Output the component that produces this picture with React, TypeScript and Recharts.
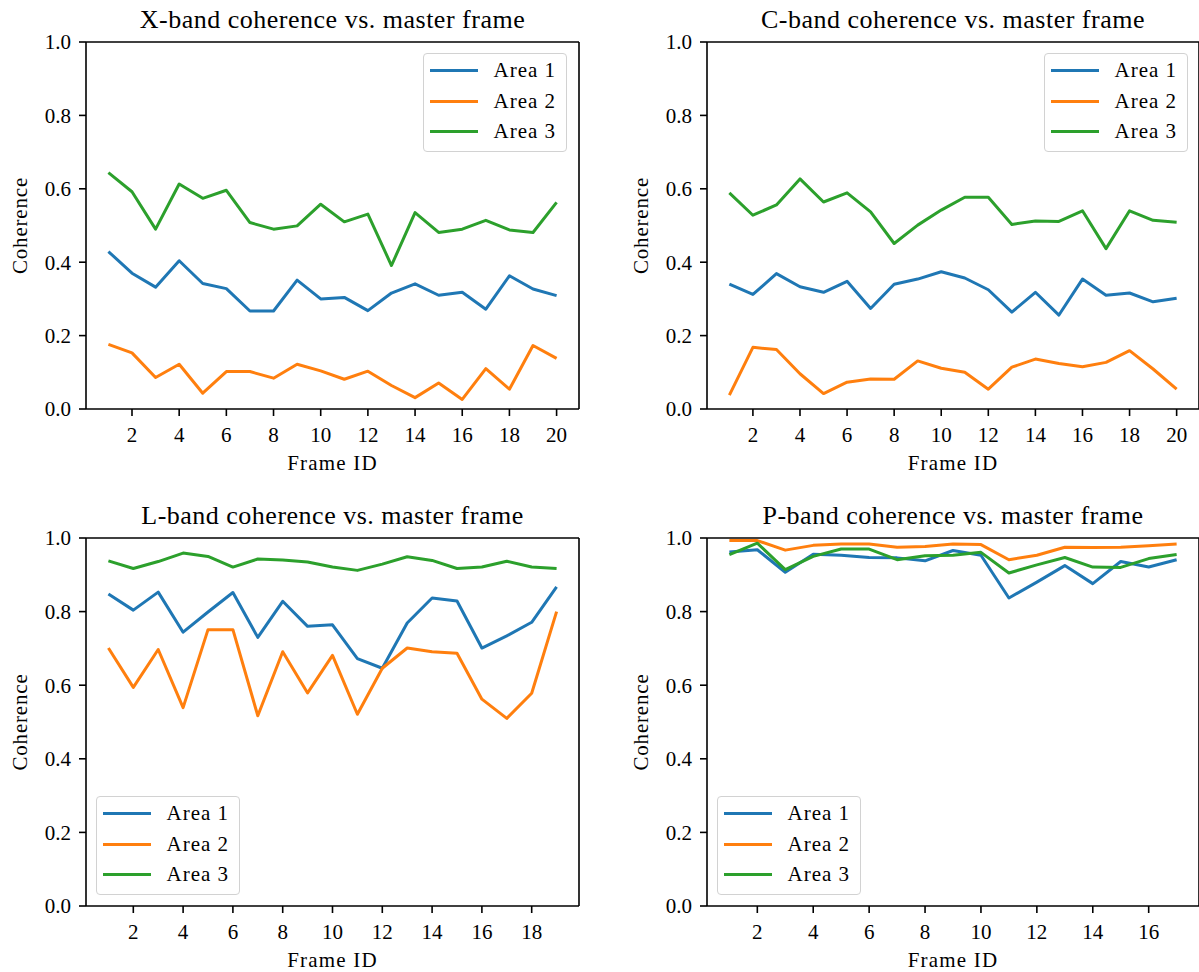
import React from 'react';
import { LineChart, Line, XAxis, YAxis, Legend, ReferenceLine } from 'recharts';

const FONT = "'Liberation Serif', 'Times New Roman', serif";
const COLORS = ['#1f77b4', '#ff7f0e', '#2ca02c'];
const SERIES_NAMES = ['Area 1', 'Area 2', 'Area 3'];
const Y_TICKS = [0, 0.2, 0.4, 0.6, 0.8, 1.0];

// X-band
const framesX = [1, 2, 3, 4, 5, 6, 7, 8, 9, 10, 11, 12, 13, 14, 15, 16, 17, 18, 19, 20];
const xArea1 = [0.429, 0.370, 0.332, 0.404, 0.342, 0.328, 0.267, 0.267, 0.351, 0.300, 0.304, 0.268, 0.316, 0.341, 0.310, 0.318, 0.272, 0.363, 0.327, 0.309];
const xArea2 = [0.176, 0.153, 0.086, 0.122, 0.043, 0.102, 0.102, 0.084, 0.122, 0.104, 0.081, 0.103, 0.064, 0.031, 0.071, 0.026, 0.110, 0.054, 0.173, 0.138];
const xArea3 = [0.644, 0.592, 0.490, 0.613, 0.574, 0.596, 0.508, 0.490, 0.499, 0.558, 0.510, 0.531, 0.391, 0.535, 0.481, 0.490, 0.514, 0.488, 0.481, 0.563];

// C-band
const framesC = [1, 2, 3, 4, 5, 6, 7, 8, 9, 10, 11, 12, 13, 14, 15, 16, 17, 18, 19, 20];
const cArea1 = [0.340, 0.312, 0.369, 0.333, 0.318, 0.348, 0.274, 0.340, 0.354, 0.374, 0.357, 0.325, 0.264, 0.318, 0.256, 0.354, 0.310, 0.316, 0.292, 0.302];
const cArea2 = [0.038, 0.168, 0.162, 0.096, 0.042, 0.073, 0.082, 0.081, 0.131, 0.111, 0.100, 0.054, 0.114, 0.136, 0.124, 0.115, 0.127, 0.159, 0.109, 0.054];
const cArea3 = [0.589, 0.528, 0.556, 0.627, 0.564, 0.589, 0.537, 0.451, 0.501, 0.542, 0.577, 0.577, 0.503, 0.512, 0.511, 0.540, 0.437, 0.540, 0.514, 0.509];

// L-band
const framesL = [1, 2, 3, 4, 5, 6, 7, 8, 9, 10, 11, 12, 13, 14, 15, 16, 17, 18, 19];
const lArea1 = [0.848, 0.804, 0.853, 0.744, 0.799, 0.852, 0.730, 0.828, 0.760, 0.764, 0.672, 0.646, 0.769, 0.837, 0.829, 0.701, 0.734, 0.771, 0.867];
const lArea2 = [0.701, 0.594, 0.697, 0.539, 0.751, 0.751, 0.517, 0.691, 0.579, 0.681, 0.521, 0.646, 0.701, 0.691, 0.687, 0.562, 0.510, 0.578, 0.800];
const lArea3 = [0.938, 0.917, 0.936, 0.959, 0.950, 0.921, 0.943, 0.940, 0.935, 0.921, 0.912, 0.929, 0.949, 0.939, 0.917, 0.921, 0.937, 0.921, 0.917];

// P-band
const framesP = [1, 2, 3, 4, 5, 6, 7, 8, 9, 10, 11, 12, 13, 14, 15, 16, 17];
const pArea1 = [0.962, 0.968, 0.907, 0.956, 0.953, 0.947, 0.946, 0.938, 0.966, 0.953, 0.837, 0.880, 0.925, 0.876, 0.936, 0.921, 0.941];
const pArea2 = [0.993, 0.993, 0.967, 0.980, 0.984, 0.984, 0.975, 0.977, 0.984, 0.982, 0.941, 0.953, 0.975, 0.974, 0.975, 0.979, 0.984];
const pArea3 = [0.955, 0.986, 0.914, 0.950, 0.970, 0.970, 0.941, 0.952, 0.953, 0.961, 0.905, 0.927, 0.947, 0.921, 0.920, 0.944, 0.955];

const xTicks20 = [2, 4, 6, 8, 10, 12, 14, 16, 18, 20];
const xTicks19 = [2, 4, 6, 8, 10, 12, 14, 16, 18];
const xTicks17 = [2, 4, 6, 8, 10, 12, 14, 16];

const X_AXIS_H = 66;
const Y_AXIS_W = 80;

function LegendBox({ payload }: any) {
    const items = (payload || []).map((p: any) => ({ label: p.value, color: p.color }));
    return (
        <div
            style={{
                width: 144,
                height: 99,
                boxSizing: 'border-box',
                border: '1.5px solid #d2d2d2',
                borderRadius: 4,
                background: 'rgba(255,255,255,0.8)',
                fontFamily: FONT,
                fontSize: 21,
                letterSpacing: 1,
                paddingTop: 1,
            }}
        >
            {items.map((it: any) => (
                <div key={it.label} style={{ height: 30.7, display: 'flex', alignItems: 'center' }}>
                    <div style={{ marginLeft: 5.5, width: 48, height: 3, background: it.color }} />
                    <span style={{ marginLeft: 16, lineHeight: 1, fontFamily: FONT }}>{it.label}</span>
                </div>
            ))}
        </div>
    );
}

interface PanelProps {
    title: string;
    frames: number[];
    series: number[][];
    xTicks: number[];
    left: number;
    top: number;
    width: number;
    height: number;
    plot: { left: number; top: number; right: number; bottom: number };
    legendAt: { left: number; top: number };
}

function Panel({ title, frames, series, xTicks, left, top, width, height, plot, legendAt }: PanelProps) {
    const data = frames.map((f, i) => ({
        frame: f,
        a1: series[0][i],
        a2: series[1][i],
        a3: series[2][i],
    }));
    const pad = 0.05 * (frames[frames.length - 1] - frames[0]);
    const domain = [frames[0] - pad, frames[frames.length - 1] + pad];

    const axisStroke = { stroke: '#000', strokeWidth: 1.6 };
    const tickStyle = { fill: '#000', fontSize: 21, fontFamily: FONT };

    return (
        <div style={{ position: 'absolute', left, top, width, height }}>
            <div
                style={{
                    position: 'absolute',
                    left: plot.left,
                    width: plot.right - plot.left,
                    top: plot.top - 35,
                    textAlign: 'center',
                    fontFamily: FONT,
                    fontSize: 26,
                    lineHeight: '26px',
                    letterSpacing: 0.5,
                    whiteSpace: 'nowrap',
                }}
            >
                {title}
            </div>
            <LineChart
                width={width}
                height={height}
                data={data}
                style={{ fontFamily: FONT }}
                margin={{
                    top: plot.top,
                    left: plot.left - Y_AXIS_W,
                    right: width - plot.right,
                    bottom: height - plot.bottom - X_AXIS_H,
                }}
            >
                <XAxis
                    dataKey="frame"
                    type="number"
                    domain={domain}
                    ticks={xTicks}
                    interval={0}
                    height={X_AXIS_H}
                    tickSize={7}
                    tickMargin={11}
                    axisLine={axisStroke}
                    tickLine={axisStroke}
                    tick={tickStyle}
                    label={{
                        value: 'Frame ID',
                        position: 'insideBottom',
                        offset: 5,
                        style: { fill: '#000', fontSize: 21, fontFamily: FONT, letterSpacing: 1.2 },
                    }}
                />
                <YAxis
                    type="number"
                    domain={[0, 1]}
                    ticks={Y_TICKS}
                    interval={0}
                    width={Y_AXIS_W}
                    tickSize={7}
                    tickMargin={8}
                    axisLine={axisStroke}
                    tickLine={axisStroke}
                    tick={tickStyle}
                    tickFormatter={(v: number) => v.toFixed(1)}
                    label={{
                        value: 'Coherence',
                        angle: -90,
                        position: 'insideLeft',
                        offset: 14,
                        style: { fill: '#000', fontSize: 21, fontFamily: FONT, textAnchor: 'middle', letterSpacing: 0.8 },
                    }}
                />
                {/* top and right spines */}
                <ReferenceLine y={1} stroke="#000" strokeWidth={1.6} />
                <ReferenceLine x={domain[1]} stroke="#000" strokeWidth={1.6} />
                {['a1', 'a2', 'a3'].map((key, i) => (
                    <Line
                        key={key}
                        type="linear"
                        dataKey={key}
                        name={SERIES_NAMES[i]}
                        stroke={COLORS[i]}
                        strokeWidth={3}
                        strokeLinejoin="round"
                        dot={false}
                        activeDot={false}
                        isAnimationActive={false}
                    />
                ))}
                <Legend
                    layout="vertical"
                    align="center"
                    verticalAlign="middle"
                    content={<LegendBox />}
                    wrapperStyle={{ left: legendAt.left, top: legendAt.top, width: 144, height: 99 }}
                />
            </LineChart>
        </div>
    );
}

export default function App() {
    return (
        <div
            style={{
                position: 'absolute',
                left: 0,
                top: 0,
                width: 1199,
                height: 972,
                background: '#fff',
                overflow: 'hidden',
                fontFamily: FONT,
            }}
        >
            <style>{`.recharts-wrapper text, .recharts-legend-wrapper { font-family: 'Liberation Serif', 'Times New Roman', serif !important; }`}</style>
            <Panel
                title="X-band coherence vs. master frame"
                frames={framesX}
                series={[xArea1, xArea2, xArea3]}
                xTicks={xTicks20}
                left={0}
                top={0}
                width={600}
                height={486}
                plot={{ left: 86, top: 42, right: 579, bottom: 409 }}
                legendAt={{ left: 423, top: 53 }}
            />
            <Panel
                title="C-band coherence vs. master frame"
                frames={framesC}
                series={[cArea1, cArea2, cArea3]}
                xTicks={xTicks20}
                left={600}
                top={0}
                width={599}
                height={486}
                plot={{ left: 107, top: 42, right: 599, bottom: 409 }}
                legendAt={{ left: 444, top: 53 }}
            />
            <Panel
                title="L-band coherence vs. master frame"
                frames={framesL}
                series={[lArea1, lArea2, lArea3]}
                xTicks={xTicks19}
                left={0}
                top={486}
                width={600}
                height={486}
                plot={{ left: 86, top: 52, right: 579, bottom: 420 }}
                legendAt={{ left: 96, top: 310 }}
            />
            <Panel
                title="P-band coherence vs. master frame"
                frames={framesP}
                series={[pArea1, pArea2, pArea3]}
                xTicks={xTicks17}
                left={600}
                top={486}
                width={599}
                height={486}
                plot={{ left: 107, top: 52, right: 599, bottom: 420 }}
                legendAt={{ left: 117, top: 310 }}
            />
        </div>
    );
}
